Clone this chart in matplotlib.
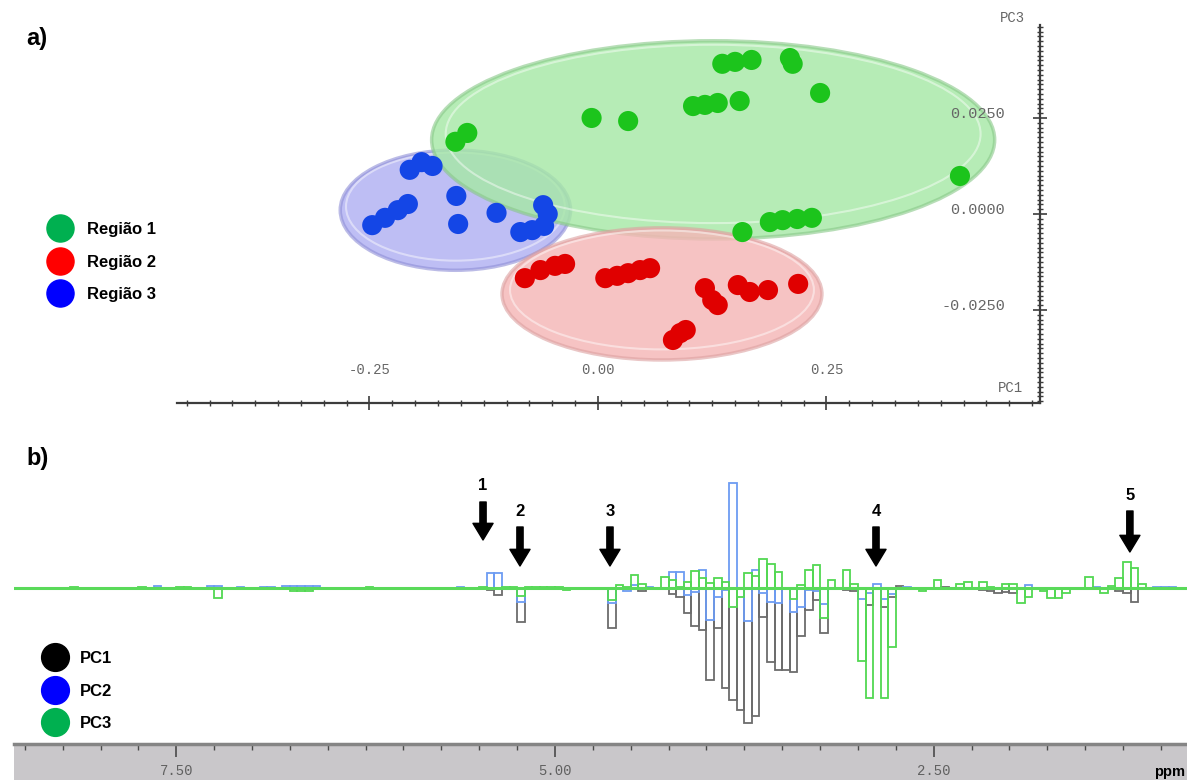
import numpy as np
import matplotlib.pyplot as plt
from matplotlib.patches import Ellipse
from matplotlib.lines import Line2D
from matplotlib.ticker import MultipleLocator
from matplotlib.colors import to_rgba

# ---------------- a) PCA scores, PC1 x PC3
reg1_pc1 = [-0.156, -0.143, -0.007, 0.033, 0.104, 0.117, 0.131, 0.155, 0.136, 0.150,
            0.168, 0.210, 0.213, 0.243, 0.396, 0.158, 0.188, 0.202, 0.218, 0.234]
reg1_pc3 = [0.0188, 0.0211, 0.0250, 0.0242, 0.0281, 0.0284, 0.0289, 0.0294, 0.0391, 0.0396,
            0.0401, 0.0406, 0.0391, 0.0315, 0.0099, -0.0047, -0.0021, -0.0016, -0.0013, -0.0010]
reg2_pc1 = [-0.080, -0.063, -0.047, -0.036, 0.008, 0.021, 0.033, 0.046, 0.057, 0.117,
            0.125, 0.131, 0.153, 0.166, 0.186, 0.219, 0.090, 0.096, 0.082]
reg2_pc3 = [-0.0167, -0.0146, -0.0135, -0.0130, -0.0167, -0.0161, -0.0154, -0.0146, -0.0141, -0.0193,
            -0.0224, -0.0237, -0.0185, -0.0203, -0.0198, -0.0182, -0.0310, -0.0302, -0.0328]
reg3_pc1 = [-0.206, -0.193, -0.181, -0.155, -0.153, -0.247, -0.233, -0.219, -0.208, -0.111,
            -0.085, -0.072, -0.059, -0.055, -0.060]
reg3_pc3 = [0.0115, 0.0135, 0.0125, 0.0047, -0.0026, -0.0029, -0.0010, 0.0010, 0.0026, 0.0003,
            -0.0047, -0.0042, -0.0031, 0.0000, 0.0023]

# confidence ellipses: centre x, centre y, width, height
ell_reg1 = (0.126, 0.0193, 0.616, 0.0516)
ell_reg2 = (0.070, -0.0208, 0.350, 0.0344)
ell_reg3 = (-0.156, 0.0010, 0.252, 0.0313)

regions = ['Região 1', 'Região 2', 'Região 3']

# ---------------- b) loadings, 0.05 ppm buckets
bucket_ppm = [8.175, 7.725, 7.625, 7.475, 7.425, 7.275, 7.225, 7.075, 6.925, 6.875,
              6.775, 6.725, 6.675, 6.625, 6.575, 6.225, 5.625, 5.475, 5.425, 5.375,
              5.325, 5.275, 5.225, 5.175, 5.125, 5.075, 5.025, 4.975, 4.925, 4.675,
              4.625, 4.575, 4.525, 4.475, 4.425, 4.375, 4.325, 4.275, 4.225, 4.175,
              4.125, 4.075, 4.025, 3.975, 3.925, 3.875, 3.825, 3.775, 3.725, 3.675,
              3.625, 3.575, 3.525, 3.475, 3.425, 3.375, 3.325, 3.275, 3.225, 3.175,
              3.075, 3.025, 2.975, 2.925, 2.875, 2.825, 2.775, 2.725, 2.675, 2.575,
              2.475, 2.425, 2.325, 2.275, 2.175, 2.125, 2.075, 2.025, 1.975, 1.925,
              1.875, 1.775, 1.725, 1.675, 1.625, 1.475, 1.425, 1.375, 1.325, 1.275,
              1.225, 1.175, 1.125, 1.025, 0.975, 0.925]
load_pc1 = [0, 0, -1, 0, 0, 0, 0, 0, 0, 0,
            0, 0, 0, 0, 0, 0, 0, 0, -2, -7,
            0, 0, -34, 0, 0, 0, 0, 0, 0, -1,
            -40, -1, 0, 0, -3, -1, -1, -1, -6, -9,
            -25, -38, -42, -92, -40, -100, -112, -122, -135, -128,
            -29, -74, -82, -82, -84, -48, -22, -12, -45, 0,
            -2, -3, -1, -17, 0, -19, -9, 2, 0, 0,
            0, 1, -1, 0, -2, -3, -5, -4, -5, 0,
            0, 0, 0, 0, 0, 0, 0, 0, 0, -3,
            -5, -14, 0, 0, 0, 0]
load_pc2 = [0, 0, 2, 0, 0, 2, 2, 1, 1, 1,
            2, 2, 2, 2, 2, 0, 1, 0, 15, 15,
            0, 0, -14, 0, 0, 0, 0, 0, 0, 0,
            -15, 0, -3, 3, 0, 1, 0, 0, 16, 16,
            -7, -4, 18, -32, -9, -2, 105, -1, -33, 18,
            -5, -14, -15, 0, -24, -19, -2, -3, -16, 0,
            0, 0, -11, -5, 4, -11, -6, 0, 1, 0,
            0, 0, 0, 0, 0, 0, 0, 0, 0, 0,
            3, 0, 0, 0, 0, 0, 1, 0, 0, 0,
            0, -1, 0, 1, 1, 1]
load_pc3 = [1, 1, 0, 1, 1, 0, -10, 0, -1, 0,
            0, -3, -3, -3, 0, 1, 0, 1, 0, -1,
            1, 1, -8, 1, 1, 1, 1, 1, -2, 0,
            -12, 3, 1, 13, 4, 0, 0, 11, 8, 1,
            6, 17, 10, 5, 10, 6, -19, -9, 15, 12,
            29, 24, 16, 0, -11, 3, 18, 23, -30, 8,
            18, 4, -73, -110, 0, -110, -59, 0, 0, -3,
            8, 0, 4, 6, 6, 1, 0, 4, 4, -15,
            -9, -3, -10, -10, -5, 11, 0, -5, 2, 10,
            26, 20, 4, 0, 0, 0]

arrow_ppm = [5.475, 5.231, 4.637, 2.881, 1.205]
arrow_tail = [86, 61, 61, 61, 77]
arrow_tip = [48, 22, 22, 22, 36]
arrow_txt = ['1', '2', '3', '4', '5']

pcs = ['PC1', 'PC2', 'PC3']

W, H = 1187, 780
fig = plt.figure(figsize=(W / 100, H / 100), dpi=100)
mono = 'Liberation Mono'

# ---------------- panel a
ax = fig.add_axes([177 / W, 1 - 403 / H, 863 / W, 378 / H])
ax.set_xlim(-0.4606, 0.4836)
ax.set_ylim(-0.0492, 0.0492)

for (cx, cy, w, h), fc, ec, z in [(ell_reg3, '#b0b0f2', '#8e8ed6', 0.3),
                                  (ell_reg1, '#a6e8a6', '#88c888', 0.6),
                                  (ell_reg2, '#f5b6b6', '#dca0a0', 0.9)]:
    ax.add_patch(Ellipse((cx, cy), w, h, facecolor=to_rgba(fc, 0.82),
                         edgecolor=to_rgba(ec, 0.6), lw=2.5, zorder=z))
    ax.add_patch(Ellipse((cx, cy + h * 0.03), w * 0.95, h * 0.9, facecolor='none',
                         edgecolor='white', lw=1.5, alpha=0.45, zorder=z + 0.05))

ax.scatter(reg1_pc1, reg1_pc3, s=210, color='#1cc41c', edgecolors='none', zorder=5)
ax.scatter(reg2_pc1, reg2_pc3, s=210, color='#e00000', edgecolors='none', zorder=5)
ax.scatter(reg3_pc1, reg3_pc3, s=210, color='#1446e6', edgecolors='none', zorder=5)

for s in ['bottom', 'right']:
    ax.spines[s].set_visible(False)
ax.spines['top'].set_position(('axes', 0.0))
ax.spines['left'].set_position(('axes', 1.0))
for s in ['top', 'left']:
    ax.spines[s].set_color('#3c3c3c')
    ax.spines[s].set_linewidth(1.6)
ax.xaxis.set_ticks_position('top')
ax.yaxis.set_ticks_position('left')
ax.set_xticks([-0.25, 0.0, 0.25])
ax.set_xticklabels(['-0.25', '0.00', '0.25'])
ax.set_yticks([-0.025, 0.0, 0.025])
ax.set_yticklabels(['-0.0250', '0.0000', '0.0250'])
ax.xaxis.set_minor_locator(MultipleLocator(0.025))
ax.yaxis.set_minor_locator(MultipleLocator(0.00125))
ax.tick_params(axis='both', which='major', direction='inout', length=10, width=1.2,
               color='#3c3c3c', labelcolor='#666666')
ax.tick_params(axis='both', which='minor', direction='inout', length=5, width=1.0, color='#3c3c3c')
ax.tick_params(axis='x', pad=14, labelsize=10)
ax.tick_params(axis='y', pad=20, labelsize=11)
for lab in ax.get_xticklabels() + ax.get_yticklabels():
    lab.set_fontfamily(mono)
for lab in ax.get_yticklabels():
    lab.set_va('baseline')
ax.set_facecolor('none')
ax.text(0.9676, 1.0185, 'PC3', transform=ax.transAxes, ha='center', va='center',
        family=mono, fontsize=10, color='#666666')
ax.text(0.9652, 0.0397, 'PC1', transform=ax.transAxes, ha='center', va='center',
        family=mono, fontsize=10, color='#666666')

h1 = [Line2D([], [], marker='o', ls='none', markersize=19.5, color=c)
      for c in ['#00b050', '#ff0000', '#0000ff']]
ax.legend(h1, regions, loc='upper left', bbox_to_anchor=(46.7 / W, 1 - 222 / H),
          bbox_transform=fig.transFigure, frameon=False, borderpad=0, borderaxespad=0,
          handlelength=1.6, handletextpad=0.8, labelspacing=1.05,
          prop={'family': 'Liberation Sans', 'weight': 'bold', 'size': 12})

fig.text(26 / W, 1 - 39 / H, 'a)', ha='left', va='center', fontsize=17, fontweight='bold',
         family='Liberation Sans')
fig.text(26 / W, 1 - 458 / H, 'b)', ha='left', va='center', fontsize=17, fontweight='bold',
         family='Liberation Sans')

# ---------------- panel b
xl = (8.571, 0.828)
bx = fig.add_axes([14 / W, 36 / H, 1173 / W, 289 / H])
bx.set_xlim(*xl)
bx.set_ylim(-156, 133)
bx.axis('off')

ppm = np.array(bucket_ppm)
for vals, col in [(load_pc1, '#6c6c6c'), (load_pc2, '#6d9cf2'), (load_pc3, '#52d852')]:
    v = np.array(vals, dtype=float)
    m = v != 0
    bx.bar(ppm[m], v[m], width=0.05, fill=False, edgecolor=col, linewidth=1.3)
bx.axhline(0, color='#5ada5a', lw=2.2, zorder=4)

for x, t0, t1, lab in zip(arrow_ppm, arrow_tail, arrow_tip, arrow_txt):
    bx.annotate('', xy=(x, t1), xytext=(x, t0),
                arrowprops=dict(facecolor='black', edgecolor='black', width=4.5,
                                headwidth=14.5, headlength=12, shrink=0))
    bx.text(x, t0 + 16, lab, ha='center', va='center', fontsize=12, fontweight='bold',
            family='Liberation Sans')

h2 = [Line2D([], [], marker='o', ls='none', markersize=20, color=c)
      for c in ['#000000', '#0000ff', '#00b050']]
bx.legend(h2, pcs, loc='upper left', bbox_to_anchor=(41.7 / W, 1 - 651 / H),
          bbox_transform=fig.transFigure, frameon=False, borderpad=0, borderaxespad=0,
          handlelength=1.6, handletextpad=0.7, labelspacing=1.05,
          prop={'family': 'Liberation Sans', 'weight': 'bold', 'size': 12})

# ppm scale bar
sx = fig.add_axes([14 / W, 0, 1173 / W, 36 / H])
sx.set_xlim(*xl)
sx.set_ylim(0, 1)
sx.set_facecolor('#c9c7ca')
for s in ['bottom', 'left', 'right']:
    sx.spines[s].set_visible(False)
sx.spines['top'].set_color('#858585')
sx.spines['top'].set_linewidth(2.5)
sx.xaxis.set_ticks_position('top')
sx.xaxis.set_major_locator(MultipleLocator(2.5))
sx.xaxis.set_minor_locator(MultipleLocator(0.25))
sx.tick_params(axis='x', which='major', direction='in', length=9, width=1.2, color='#4a4a4a',
               labeltop=False)
sx.tick_params(axis='x', which='minor', direction='in', length=4, width=1.0, color='#4a4a4a')
sx.set_yticks([])
for v in [7.5, 5.0, 2.5]:
    sx.text(v, 0.24, f'{v:.2f}', ha='center', va='center', family=mono, fontsize=10,
            color='#606060')
sx.text(0.985, 0.22, 'ppm', transform=sx.transAxes, ha='center', va='center',
        fontsize=10.5, fontweight='bold', family='Liberation Sans')

fig.savefig('out.png', dpi=100)
